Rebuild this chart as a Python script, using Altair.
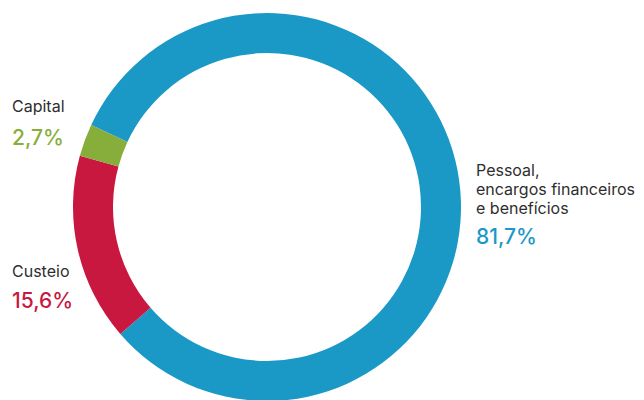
import math
import altair as alt
import pandas as pd

# Budget breakdown (percent of total)
categories = ["Pessoal,\nencargos financeiros\ne benefícios", "Custeio", "Capital"]
keys = ["Pessoal", "Custeio", "Capital"]
values = [81.7, 15.6, 2.7]
colors = ["#1a98c6", "#c8183f", "#87ad3b"]

# Layout of the ring and its labels (pixels)
CX, CY = 267, 207
R_OUT, R_IN = 194, 154
START = math.radians(295)
LABEL_POS = {
    "Pessoal": (476, 176),
    "Custeio": (12, 277),
    "Capital": (12, 112),
}
LINE_H = 19
PCT_GAP = {"Pessoal": 30, "Custeio": 31, "Capital": 33}

ring = pd.DataFrame({"key": keys, "value": values, "order": range(len(keys))})

rows = []
for key, name, v, c in zip(keys, categories, values, colors):
    x, y = LABEL_POS[key]
    lines = name.split("\n")
    for i, line in enumerate(lines):
        rows.append({"text": line, "x": x, "y": y + i * LINE_H, "kind": "name", "color": "#2e2e2e"})
    pct = f"{v:.1f}".replace(".", ",") + "%"
    rows.append({"text": pct, "x": x, "y": y + (len(lines) - 1) * LINE_H + PCT_GAP[key],
                 "kind": "pct", "color": c})
labels = pd.DataFrame(rows)

arc = alt.Chart(ring).mark_arc(innerRadius=R_IN, outerRadius=R_OUT, stroke=None).encode(
    theta=alt.Theta("value:Q", stack=True,
                    scale=alt.Scale(range=[START, START + 2 * math.pi])),
    order=alt.Order("order:Q"),
    color=alt.Color("key:N", scale=alt.Scale(domain=keys, range=colors), legend=None),
    x=alt.value(CX),
    y=alt.value(CY),
)

name_text = alt.Chart(labels).transform_filter(alt.datum.kind == "name").mark_text(
    align="left", baseline="alphabetic", font="Inter", fontSize=16
).encode(
    x=alt.X("x:Q", scale=None),
    y=alt.Y("y:Q", scale=None),
    text="text:N",
    color=alt.Color("color:N", scale=None),
)

pct_text = alt.Chart(labels).transform_filter(alt.datum.kind == "pct").mark_text(
    align="left", baseline="alphabetic", font="Inter", fontSize=21, fontWeight=500
).encode(
    x=alt.X("x:Q", scale=None),
    y=alt.Y("y:Q", scale=None),
    text="text:N",
    color=alt.Color("color:N", scale=None),
)

chart = alt.layer(arc, name_text, pct_text).properties(
    width=644, height=400, padding=0,
    autosize=alt.AutoSizeParams(type="fit", contains="padding"),
).configure_view(stroke=None)

chart.save("out.html", embed_options={"renderer": "svg", "actions": False})
